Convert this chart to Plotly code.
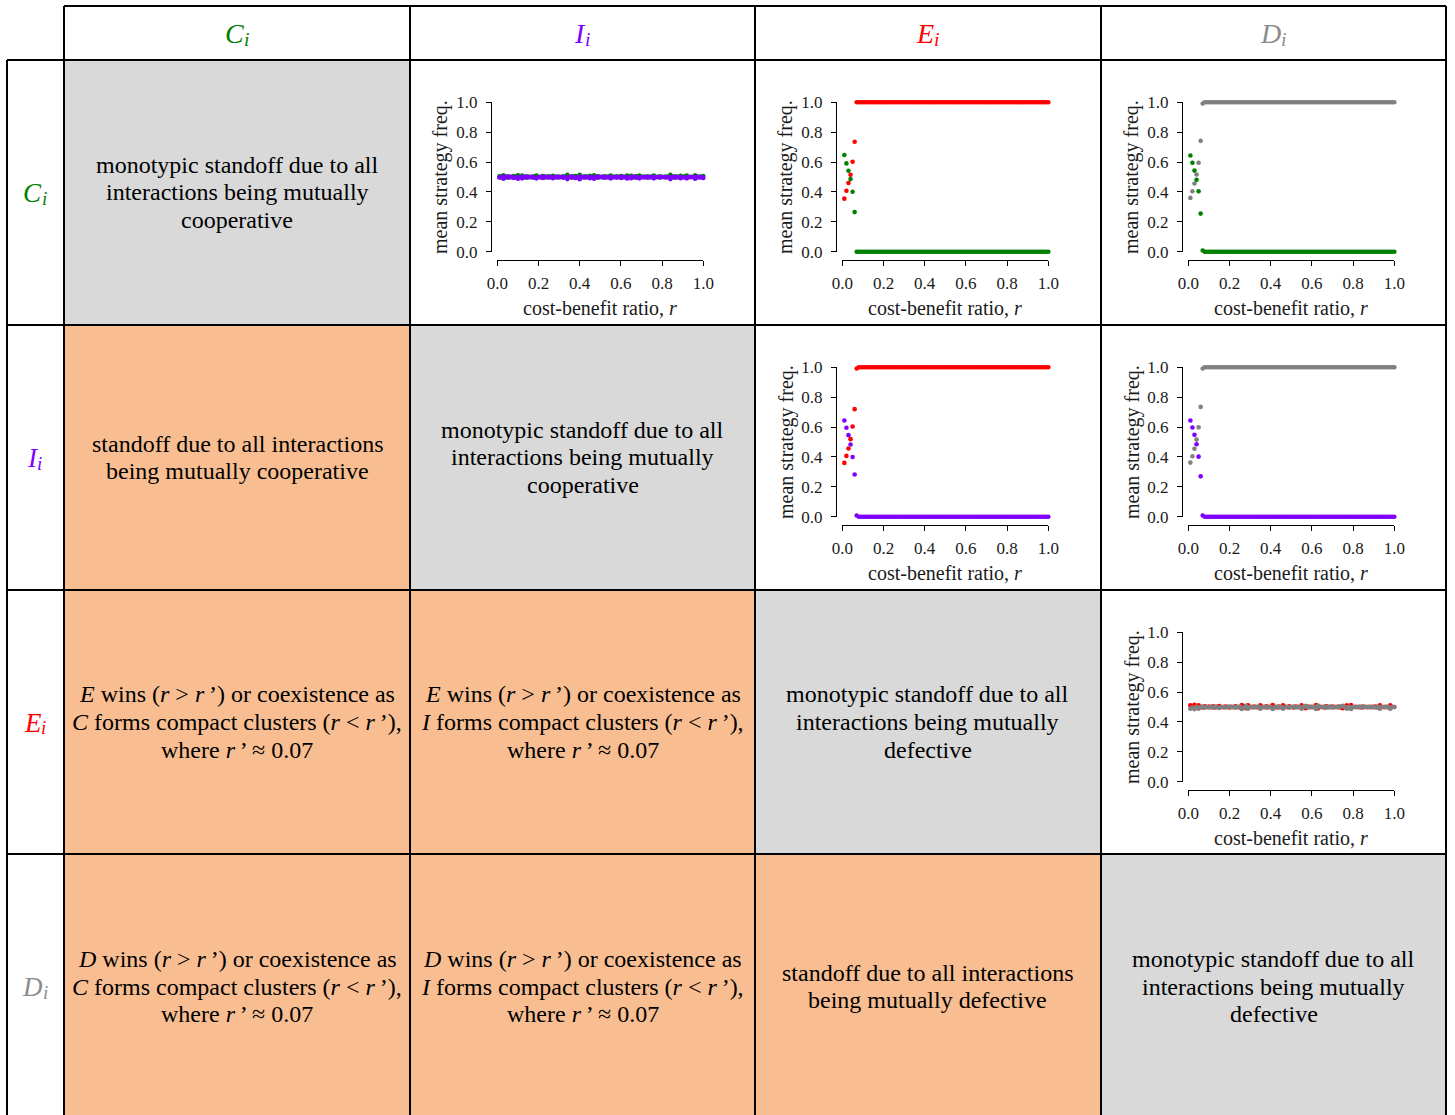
import plotly.graph_objects as go

W, H = 1455, 1115

# ---------------------------------------------------------------- data
# cost-benefit ratio grid
r_vals = [
    0.01, 0.02, 0.03, 0.04, 0.05, 0.06, 0.07, 0.08, 0.09, 0.10,
    0.11, 0.12, 0.13, 0.14, 0.15, 0.16, 0.17, 0.18, 0.19, 0.20,
    0.21, 0.22, 0.23, 0.24, 0.25, 0.26, 0.27, 0.28, 0.29, 0.30,
    0.31, 0.32, 0.33, 0.34, 0.35, 0.36, 0.37, 0.38, 0.39, 0.40,
    0.41, 0.42, 0.43, 0.44, 0.45, 0.46, 0.47, 0.48, 0.49, 0.50,
    0.51, 0.52, 0.53, 0.54, 0.55, 0.56, 0.57, 0.58, 0.59, 0.60,
    0.61, 0.62, 0.63, 0.64, 0.65, 0.66, 0.67, 0.68, 0.69, 0.70,
    0.71, 0.72, 0.73, 0.74, 0.75, 0.76, 0.77, 0.78, 0.79, 0.80,
    0.81, 0.82, 0.83, 0.84, 0.85, 0.86, 0.87, 0.88, 0.89, 0.90,
    0.91, 0.92, 0.93, 0.94, 0.95, 0.96, 0.97, 0.98, 0.99, 1.00,
]

# frequencies once the winner has taken over (r = 0.08 ... 1.00)
winner_plateau = [
    1.0, 1.0, 1.0, 1.0, 1.0, 1.0, 1.0, 1.0, 1.0, 1.0,
    1.0, 1.0, 1.0, 1.0, 1.0, 1.0, 1.0, 1.0, 1.0, 1.0,
    1.0, 1.0, 1.0, 1.0, 1.0, 1.0, 1.0, 1.0, 1.0, 1.0,
    1.0, 1.0, 1.0, 1.0, 1.0, 1.0, 1.0, 1.0, 1.0, 1.0,
    1.0, 1.0, 1.0, 1.0, 1.0, 1.0, 1.0, 1.0, 1.0, 1.0,
    1.0, 1.0, 1.0, 1.0, 1.0, 1.0, 1.0, 1.0, 1.0, 1.0,
    1.0, 1.0, 1.0, 1.0, 1.0, 1.0, 1.0, 1.0, 1.0, 1.0,
    1.0, 1.0, 1.0, 1.0, 1.0, 1.0, 1.0, 1.0, 1.0, 1.0,
    1.0, 1.0, 1.0, 1.0, 1.0, 1.0, 1.0, 1.0, 1.0, 1.0,
    1.0, 1.0, 1.0,
]
loser_plateau = [
    0.0, 0.0, 0.0, 0.0, 0.0, 0.0, 0.0, 0.0, 0.0, 0.0,
    0.0, 0.0, 0.0, 0.0, 0.0, 0.0, 0.0, 0.0, 0.0, 0.0,
    0.0, 0.0, 0.0, 0.0, 0.0, 0.0, 0.0, 0.0, 0.0, 0.0,
    0.0, 0.0, 0.0, 0.0, 0.0, 0.0, 0.0, 0.0, 0.0, 0.0,
    0.0, 0.0, 0.0, 0.0, 0.0, 0.0, 0.0, 0.0, 0.0, 0.0,
    0.0, 0.0, 0.0, 0.0, 0.0, 0.0, 0.0, 0.0, 0.0, 0.0,
    0.0, 0.0, 0.0, 0.0, 0.0, 0.0, 0.0, 0.0, 0.0, 0.0,
    0.0, 0.0, 0.0, 0.0, 0.0, 0.0, 0.0, 0.0, 0.0, 0.0,
    0.0, 0.0, 0.0, 0.0, 0.0, 0.0, 0.0, 0.0, 0.0, 0.0,
    0.0, 0.0, 0.0,
]

# C vs I (both mutually cooperative -> stay near one half)
ci_C = [
    0.504, 0.497, 0.512, 0.501, 0.496, 0.503, 0.499, 0.507, 0.502, 0.511,
    0.498, 0.509, 0.501, 0.495, 0.503, 0.500, 0.497, 0.505, 0.509, 0.502,
    0.499, 0.506, 0.496, 0.502, 0.504, 0.498, 0.508, 0.501, 0.497, 0.503,
    0.500, 0.505, 0.498, 0.514, 0.502, 0.496, 0.503, 0.507, 0.499, 0.515,
    0.501, 0.497, 0.504, 0.500, 0.508, 0.498, 0.512, 0.503, 0.496, 0.502,
    0.499, 0.505, 0.501, 0.497, 0.509, 0.503, 0.498, 0.504, 0.500, 0.506,
    0.497, 0.502, 0.510, 0.499, 0.508, 0.501, 0.496, 0.504, 0.509, 0.500,
    0.503, 0.498, 0.505, 0.501, 0.497, 0.509, 0.502, 0.499, 0.504, 0.500,
    0.498, 0.503, 0.501, 0.514, 0.499, 0.505, 0.497, 0.502, 0.508, 0.500,
    0.504, 0.509, 0.498, 0.502, 0.500, 0.511, 0.497, 0.503, 0.501, 0.506,
]
ci_I = [
    0.496, 0.503, 0.488, 0.499, 0.504, 0.497, 0.501, 0.493, 0.498, 0.489,
    0.502, 0.491, 0.499, 0.505, 0.497, 0.500, 0.503, 0.495, 0.491, 0.498,
    0.501, 0.494, 0.504, 0.498, 0.496, 0.502, 0.492, 0.499, 0.503, 0.497,
    0.500, 0.495, 0.502, 0.486, 0.498, 0.504, 0.497, 0.493, 0.501, 0.485,
    0.499, 0.503, 0.496, 0.500, 0.492, 0.502, 0.488, 0.497, 0.504, 0.498,
    0.501, 0.495, 0.499, 0.503, 0.491, 0.497, 0.502, 0.496, 0.500, 0.494,
    0.503, 0.498, 0.490, 0.501, 0.492, 0.499, 0.504, 0.496, 0.491, 0.500,
    0.497, 0.502, 0.495, 0.499, 0.503, 0.491, 0.498, 0.501, 0.496, 0.500,
    0.502, 0.497, 0.499, 0.486, 0.501, 0.495, 0.503, 0.498, 0.492, 0.500,
    0.496, 0.491, 0.502, 0.498, 0.500, 0.489, 0.503, 0.497, 0.499, 0.494,
]

# C vs E (r = 0.01 ... 0.07, then plateau)
ce_C = [0.647, 0.591, 0.542, 0.486, 0.401, 0.265, 0.0] + loser_plateau
ce_E = [0.355, 0.408, 0.460, 0.515, 0.602, 0.736, 1.0] + winner_plateau

# C vs D
cd_C = [0.644, 0.595, 0.543, 0.481, 0.405, 0.255, 0.008] + loser_plateau
cd_D = [0.360, 0.405, 0.456, 0.517, 0.595, 0.742, 0.992] + winner_plateau

# I vs E
ie_I = [0.644, 0.595, 0.546, 0.483, 0.400, 0.282, 0.008] + loser_plateau
ie_E = [0.360, 0.407, 0.456, 0.519, 0.604, 0.720, 0.992] + winner_plateau

# I vs D
id_I = [0.644, 0.597, 0.548, 0.485, 0.402, 0.270, 0.008] + loser_plateau
id_D = [0.362, 0.405, 0.455, 0.516, 0.598, 0.735, 0.992] + winner_plateau

# E vs D (both mutually defective -> stay near one half)
ed_E = [
    0.512, 0.503, 0.514, 0.498, 0.511, 0.501, 0.497, 0.505, 0.500, 0.503,
    0.499, 0.504, 0.497, 0.502, 0.506, 0.500, 0.498, 0.503, 0.501, 0.497,
    0.502, 0.499, 0.504, 0.500, 0.497, 0.513, 0.505, 0.492, 0.512, 0.501,
    0.498, 0.503, 0.500, 0.497, 0.511, 0.502, 0.499, 0.504, 0.498, 0.501,
    0.513, 0.500, 0.497, 0.503, 0.499, 0.511, 0.502, 0.498, 0.504, 0.500,
    0.497, 0.503, 0.501, 0.498, 0.512, 0.500, 0.492, 0.503, 0.499, 0.501,
    0.498, 0.513, 0.491, 0.502, 0.500, 0.497, 0.504, 0.499, 0.501, 0.503,
    0.498, 0.500, 0.503, 0.497, 0.492, 0.501, 0.511, 0.499, 0.513, 0.500,
    0.502, 0.498, 0.501, 0.497, 0.503, 0.500, 0.498, 0.502, 0.499, 0.501,
    0.503, 0.497, 0.512, 0.500, 0.498, 0.502, 0.499, 0.512, 0.501, 0.500,
]
ed_D = [
    0.488, 0.497, 0.486, 0.502, 0.489, 0.499, 0.503, 0.495, 0.500, 0.497,
    0.501, 0.496, 0.503, 0.498, 0.494, 0.500, 0.502, 0.497, 0.499, 0.503,
    0.498, 0.501, 0.496, 0.500, 0.503, 0.487, 0.495, 0.508, 0.488, 0.499,
    0.502, 0.497, 0.500, 0.503, 0.489, 0.498, 0.501, 0.496, 0.502, 0.499,
    0.487, 0.500, 0.503, 0.497, 0.501, 0.489, 0.498, 0.502, 0.496, 0.500,
    0.503, 0.497, 0.499, 0.502, 0.488, 0.500, 0.508, 0.497, 0.501, 0.499,
    0.502, 0.487, 0.509, 0.498, 0.500, 0.503, 0.496, 0.501, 0.499, 0.497,
    0.502, 0.500, 0.497, 0.503, 0.508, 0.499, 0.489, 0.501, 0.487, 0.500,
    0.498, 0.502, 0.499, 0.503, 0.497, 0.500, 0.502, 0.498, 0.501, 0.499,
    0.497, 0.503, 0.488, 0.500, 0.502, 0.498, 0.501, 0.488, 0.499, 0.500,
]

strategies = ["C", "I", "E", "D"]
tick_vals = [0.0, 0.2, 0.4, 0.6, 0.8, 1.0]
tick_text = ["0.0", "0.2", "0.4", "0.6", "0.8", "1.0"]

# ---------------------------------------------------------------- styling
SERIF = "Liberation Serif"
COLORS = {"C": "#008000", "I": "#7F00FF", "E": "#FF0000", "D": "#808080"}
HEAD_COLORS = {"C": "#008000", "I": "#7F00FF", "E": "#FF0000", "D": "#8C8C8C"}
GREY_FILL = "#D9D9D9"
ORANGE_FILL = "#F8BE92"

# advance widths (em) of the italic serif capitals, used to centre "X" + subscript "i"
ITALIC_ADV = {"C": 0.667, "I": 0.333, "E": 0.611, "D": 0.722}
SUB_ADV = 0.278

col_edges = [7, 64, 410, 755, 1101, 1446]
row_edges = [6, 60, 325, 590, 854, 1119]


def px(x):
    return x / W


def py(y):
    return 1 - y / H


# row strategy drawn first, column strategy on top
panels = [
    (0, 1, [("C", ci_C), ("I", ci_I)]),
    (0, 2, [("C", ce_C), ("E", ce_E)]),
    (0, 3, [("C", cd_C), ("D", cd_D)]),
    (1, 2, [("I", ie_I), ("E", ie_E)]),
    (1, 3, [("I", id_I), ("D", id_D)]),
    (2, 3, [("E", ed_E), ("D", ed_D)]),
]

R = "<i>r</i>\u2009\u2019"
cell_text = {
    (0, 0): ["monotypic standoff due to all", "interactions being mutually", "cooperative"],
    (1, 0): ["standoff due to all interactions", "being mutually cooperative"],
    (1, 1): ["monotypic standoff due to all", "interactions being mutually", "cooperative"],
    (2, 0): [f"<i>E</i> wins (<i>r</i> > {R}) or coexistence as",
             f"<i>C</i> forms compact clusters (<i>r</i> < {R}),",
             f"where {R} \u2248 0.07"],
    (2, 1): [f"<i>E</i> wins (<i>r</i> > {R}) or coexistence as",
             f"<i>I</i> forms compact clusters (<i>r</i> < {R}),",
             f"where {R} \u2248 0.07"],
    (2, 2): ["monotypic standoff due to all", "interactions being mutually", "defective"],
    (3, 0): [f"<i>D</i> wins (<i>r</i> > {R}) or coexistence as",
             f"<i>C</i> forms compact clusters (<i>r</i> < {R}),",
             f"where {R} \u2248 0.07"],
    (3, 1): [f"<i>D</i> wins (<i>r</i> > {R}) or coexistence as",
             f"<i>I</i> forms compact clusters (<i>r</i> < {R}),",
             f"where {R} \u2248 0.07"],
    (3, 2): ["standoff due to all interactions", "being mutually defective"],
    (3, 3): ["monotypic standoff due to all", "interactions being mutually", "defective"],
}

fig = go.Figure()
shapes = []
annotations = []
layout_axes = {}

# cell fills
for i in range(4):
    for j in range(4):
        if i == j:
            fill = GREY_FILL
        elif i > j:
            fill = ORANGE_FILL
        else:
            continue
        shapes.append(dict(type="rect", xref="paper", yref="paper",
                           x0=px(col_edges[j + 1]), x1=px(col_edges[j + 2]),
                           y0=py(row_edges[i + 1]), y1=py(row_edges[i + 2]),
                           line=dict(width=0), fillcolor=fill, layer="below"))

# table rules
LINE = dict(color="black", width=2)
shapes.append(dict(type="line", xref="paper", yref="paper",
                   x0=px(col_edges[1]), x1=px(col_edges[-1]),
                   y0=py(row_edges[0]), y1=py(row_edges[0]), line=LINE))
for y in row_edges[1:-1]:
    shapes.append(dict(type="line", xref="paper", yref="paper",
                       x0=px(col_edges[0]), x1=px(col_edges[-1]),
                       y0=py(y), y1=py(y), line=LINE))
shapes.append(dict(type="line", xref="paper", yref="paper",
                   x0=px(col_edges[0]), x1=px(col_edges[0]),
                   y0=py(row_edges[1]), y1=py(row_edges[-1]), line=LINE))
for x in col_edges[1:]:
    shapes.append(dict(type="line", xref="paper", yref="paper",
                       x0=px(x), x1=px(x),
                       y0=py(row_edges[0]), y1=py(row_edges[-1]), line=LINE))


def add_header(s, cx, cy, size):
    """Italic strategy letter with a smaller italic subscript i, centred on (cx, cy)."""
    sub_size = size * 0.7
    w_main = ITALIC_ADV[s] * size
    w_sub = SUB_ADV * sub_size
    x_left = cx - (w_main + w_sub) / 2
    color = HEAD_COLORS[s]
    annotations.append(dict(x=px(x_left + w_main / 2), y=py(cy + 0.7), xref="paper", yref="paper",
                            text=f"<i>{s}</i>", showarrow=False,
                            xanchor="center", yanchor="middle",
                            font=dict(family=SERIF, size=size, color=color)))
    annotations.append(dict(x=px(x_left + w_main + w_sub / 2), y=py(cy + 0.22 * size),
                            xref="paper", yref="paper", text="<i>i</i>", showarrow=False,
                            xanchor="center", yanchor="middle",
                            font=dict(family=SERIF, size=sub_size, color=color)))


# headers
for k, s in enumerate(strategies):
    add_header(s, (col_edges[k + 1] + col_edges[k + 2]) / 2, 33, 28)
    add_header(s, (col_edges[0] + col_edges[1]) / 2, (row_edges[k + 1] + row_edges[k + 2]) / 2, 27)

# text cells
LINE_GAP = 27.7
for (i, j), lines in cell_text.items():
    cx = (col_edges[j + 1] + col_edges[j + 2]) / 2
    cy = (row_edges[i + 1] + row_edges[i + 2]) / 2
    n = len(lines)
    for k, t in enumerate(lines):
        yy = cy + (k - (n - 1) / 2) * LINE_GAP
        annotations.append(dict(x=px(cx), y=py(yy), xref="paper", yref="paper",
                                text=t, showarrow=False, xanchor="center", yanchor="middle",
                                font=dict(family=SERIF, size=24, color="black")))

# small scatter panels
AX_COMMON = dict(showline=True, linecolor="black", linewidth=1.3, ticks="outside",
                 ticklen=5, tickwidth=1.3, tickcolor="black", showgrid=False,
                 zeroline=False, range=[0, 1], tickvals=tick_vals, ticktext=tick_text,
                 tickfont=dict(family=SERIF, size=17, color="#1a1a1a"), fixedrange=True,
                 automargin=False)

for n, (i, j, series) in enumerate(panels, start=1):
    left = col_edges[j + 1]
    top = row_edges[i + 1]
    xname = "xaxis" if n == 1 else f"xaxis{n}"
    yname = "yaxis" if n == 1 else f"yaxis{n}"
    xref = "x" if n == 1 else f"x{n}"
    yref = "y" if n == 1 else f"y{n}"
    layout_axes[xname] = dict(AX_COMMON, domain=[px(left + 87.3), px(left + 293.3)],
                              anchor="free", position=py(top + 200), ticklabelstandoff=2)
    layout_axes[yname] = dict(AX_COMMON, domain=[py(top + 191.7), py(top + 42.3)],
                              anchor="free", position=px(left + 81), ticklabelstandoff=5)
    for s, vals in series:
        fig.add_trace(go.Scatter(x=r_vals, y=vals, mode="markers", xaxis=xref, yaxis=yref,
                                 marker=dict(size=4.6, color=COLORS[s], line=dict(width=0)),
                                 cliponaxis=False, showlegend=False, hoverinfo="skip"))
    annotations.append(dict(x=px(left + 190.3), y=py(top + 248), xref="paper", yref="paper",
                            text="cost-benefit ratio, <i>r</i>", showarrow=False,
                            xanchor="center", yanchor="middle",
                            font=dict(family=SERIF, size=20, color="#1a1a1a")))
    annotations.append(dict(x=px(left + 31), y=py(top + 117), xref="paper", yref="paper",
                            text="mean strategy freq.", showarrow=False, textangle=-90,
                            xanchor="center", yanchor="middle",
                            font=dict(family=SERIF, size=20, color="#1a1a1a")))

fig.update_layout(width=W, height=H,
                  margin=dict(l=0, r=0, t=0, b=0, pad=0, autoexpand=False),
                  paper_bgcolor="white", plot_bgcolor="rgba(0,0,0,0)",
                  shapes=shapes, annotations=annotations, showlegend=False,
                  **layout_axes)

fig.write_html("out.html", config={"displayModeBar": False},
               post_script="document.body.style.margin='0px';")
